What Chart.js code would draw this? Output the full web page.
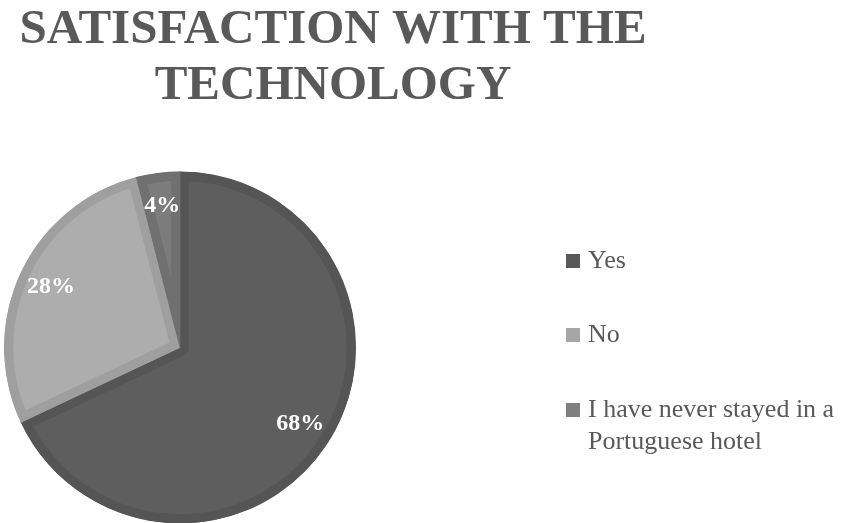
<!DOCTYPE html>
<html>
<head>
<meta charset="utf-8">
<script src="https://cdn.jsdelivr.net/npm/chart.js@4/dist/chart.umd.min.js"></script>
<style>
  html, body { margin: 0; padding: 0; background: #ffffff; }
  #wrap { width: 841px; height: 523px; }
</style>
</head>
<body>
<div id="wrap"><canvas id="chart" width="841" height="523"></canvas></div>
<script>
// Survey: satisfaction with the technology
const titleLines = ['SATISFACTION WITH THE', 'TECHNOLOGY'];
const categories = ['Yes', 'No', 'I have never stayed in a Portuguese hotel'];
const legendLines = [['Yes'], ['No'], ['I have never stayed in a', 'Portuguese hotel']];
const shares = [68, 28, 4];
const fillColors = ['#5e5e5e', '#adadad', '#7c7c7c'];
const edgeColors = ['#555555', '#9f9f9f', '#707070'];
const swatchColors = ['#595959', '#a6a6a6', '#7f7f7f'];

const TEXT_GREY = '#595959';

// Two-line bold title above the pie
const titlePlugin = {
  id: 'pieTitle',
  afterDraw(chart) {
    const ctx = chart.ctx;
    ctx.save();
    ctx.font = 'bold 49px "Liberation Serif", "Times New Roman", serif';
    ctx.fillStyle = TEXT_GREY;
    ctx.textAlign = 'center';
    ctx.textBaseline = 'alphabetic';
    const baselines = [43, 99];
    titleLines.forEach((line, i) => ctx.fillText(line, 333, baselines[i]));
    ctx.restore();
  }
};

// Percentage labels placed inside each slice
const sliceLabelPlugin = {
  id: 'sliceLabels',
  afterDatasetsDraw(chart) {
    const ctx = chart.ctx;
    const meta = chart.getDatasetMeta(0);
    const total = shares.reduce((a, b) => a + b, 0);
    ctx.save();
    ctx.font = 'bold 24px "Liberation Serif", "Times New Roman", serif';
    ctx.fillStyle = '#ffffff';
    ctx.textAlign = 'center';
    ctx.textBaseline = 'middle';
    meta.data.forEach((arc, i) => {
      const p = arc.getProps(['x', 'y', 'startAngle', 'endAngle', 'outerRadius'], true);
      const mid = (p.startAngle + p.endAngle) / 2;
      const r = p.outerRadius * 0.81;
      const pct = Math.round(shares[i] / total * 100) + '%';
      ctx.fillText(pct, p.x + Math.cos(mid) * r, p.y + Math.sin(mid) * r);
    });
    ctx.restore();
  }
};

// Legend at the right with square swatches and wrapped text
const sideLegendPlugin = {
  id: 'sideLegend',
  afterDraw(chart) {
    const ctx = chart.ctx;
    const baselines = [268, 342, 417];
    const lineGap = 32;
    ctx.save();
    ctx.font = '26px "Liberation Serif", "Times New Roman", serif';
    ctx.textAlign = 'left';
    ctx.textBaseline = 'alphabetic';
    categories.forEach((cat, i) => {
      const base = baselines[i];
      ctx.fillStyle = swatchColors[i];
      ctx.fillRect(566, base - 14, 14, 14);
      ctx.fillStyle = TEXT_GREY;
      legendLines[i].forEach((line, j) => ctx.fillText(line, 588, base + j * lineGap));
    });
    ctx.restore();
  }
};

new Chart(document.getElementById('chart'), {
  type: 'pie',
  data: {
    labels: categories,
    datasets: [{
      data: shares,
      backgroundColor: fillColors,
      borderColor: edgeColors,
      borderWidth: 9,
      borderAlign: 'inner',
      radius: 176
    }]
  },
  options: {
    responsive: false,
    devicePixelRatio: 1,
    animation: false,
    layout: { padding: { left: 4, right: 485, top: 172, bottom: -2 } },
    plugins: {
      legend: { display: false },
      title: { display: false },
      tooltip: { enabled: false }
    }
  },
  plugins: [titlePlugin, sliceLabelPlugin, sideLegendPlugin]
});
</script>
</body>
</html>
